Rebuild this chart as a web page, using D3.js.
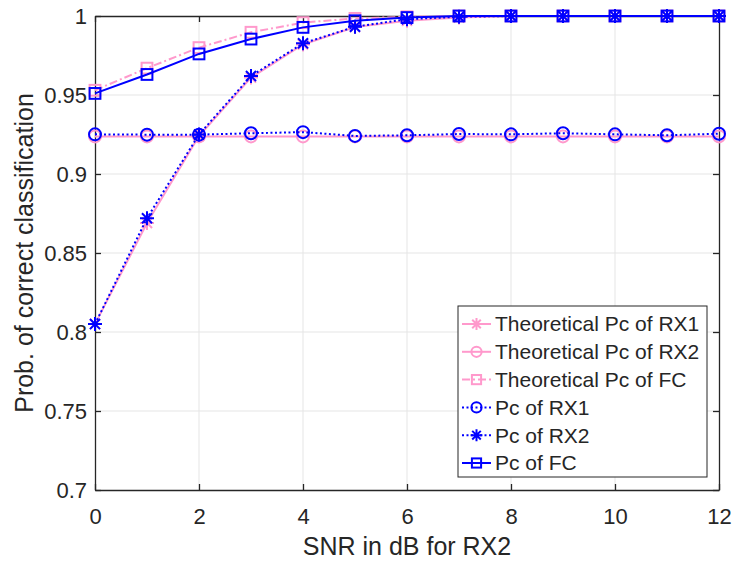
<!DOCTYPE html>
<html>
<head>
<meta charset="utf-8">
<script src="https://cdn.jsdelivr.net/npm/d3@7"></script>
<style>
  body { margin: 0; background: #fff; }
  text { font-family: "Liberation Sans", Arial, sans-serif; fill: #262626; }
</style>
</head>
<body>
<div id="chart"></div>
<script>
// x values (SNR in dB for RX2)
const snr = [0, 1, 2, 3, 4, 5, 6, 7, 8, 9, 10, 11, 12];

// theoretical curves
const theoRX1 = [0.805, 0.869, 0.924, 0.961, 0.982, 0.993, 0.997, 0.999, 1, 1, 1, 1, 1];
const theoRX2 = [0.9238, 0.9238, 0.9238, 0.9238, 0.9238, 0.9238, 0.9238, 0.9238, 0.9238, 0.9238, 0.9238, 0.9238, 0.9238];
const theoFC = [0.953, 0.967, 0.980, 0.9897, 0.9958, 0.9985, 0.9995, 1, 1, 1, 1, 1, 1];

// simulated curves
const simRX1 = [0.9251, 0.9249, 0.9249, 0.9258, 0.9265, 0.9241, 0.9245, 0.9253, 0.9251, 0.9258, 0.9251, 0.9245, 0.9255];
const simRX2 = [0.805, 0.872, 0.925, 0.962, 0.9827, 0.9932, 0.998, 0.9995, 1, 1, 1, 1, 1];
const simFC = [0.951, 0.963, 0.976, 0.9854, 0.9928, 0.997, 0.999, 1, 1, 1, 1, 1, 1];

const xTicks = [0, 2, 4, 6, 8, 10, 12];
const yTicks = [0.7, 0.75, 0.8, 0.85, 0.9, 0.95, 1];

const pink = "#ff99cc";
const blue = "#0000ff";

const series = [
    { name: "Theoretical Pc of RX1", values: theoRX1, color: pink, dash: null, marker: "star" },
    { name: "Theoretical Pc of RX2", values: theoRX2, color: pink, dash: null, marker: "circle" },
    { name: "Theoretical Pc of FC", values: theoFC, color: pink, dash: "8,3,2,3", marker: "square" },
    { name: "Pc of RX1", values: simRX1, color: blue, dash: "2,2.5", marker: "circle" },
    { name: "Pc of RX2", values: simRX2, color: blue, dash: "2,2.5", marker: "star" },
    { name: "Pc of FC", values: simFC, color: blue, dash: null, marker: "square" }
];

const W = 732, H = 561;
const margin = { top: 16, right: 13, bottom: 71, left: 95 };
const width = W - margin.left - margin.right;
const height = H - margin.top - margin.bottom;

const svg = d3.select("#chart").append("svg")
    .attr("width", W)
    .attr("height", H);

const g = svg.append("g").attr("transform", `translate(${margin.left},${margin.top})`);

const x = d3.scaleLinear().domain([0, 12]).range([0, width]);
const y = d3.scaleLinear().domain([0.7, 1]).range([height, 0]);

// grid
g.append("g").selectAll("line")
    .data(xTicks.slice(1, -1))
    .enter().append("line")
    .attr("x1", d => x(d)).attr("x2", d => x(d))
    .attr("y1", 0).attr("y2", height)
    .attr("stroke", "#e5e5e5");

g.append("g").selectAll("line")
    .data(yTicks.slice(1, -1))
    .enter().append("line")
    .attr("x1", 0).attr("x2", width)
    .attr("y1", d => y(d)).attr("y2", d => y(d))
    .attr("stroke", "#e5e5e5");

// axes with inward ticks
const axisStyle = sel => {
    sel.select(".domain").attr("stroke", "#262626").attr("stroke-width", 1.3);
    sel.selectAll(".tick line").attr("stroke", "#262626").attr("stroke-width", 1.3);
    sel.selectAll("text").style("font-size", "22px").attr("fill", "#262626");
};

g.append("g")
    .attr("transform", `translate(0,${height})`)
    .call(d3.axisBottom(x).tickValues(xTicks).tickSizeInner(-6).tickSizeOuter(0).tickPadding(18))
    .call(axisStyle);

g.append("g")
    .call(d3.axisTop(x).tickValues(xTicks).tickSizeInner(-6).tickSizeOuter(0).tickFormat(""))
    .call(axisStyle);

g.append("g")
    .call(d3.axisLeft(y).tickValues(yTicks).tickSizeInner(-6).tickSizeOuter(0).tickPadding(8).tickFormat(d3.format("")))
    .call(axisStyle);

g.append("g")
    .attr("transform", `translate(${width},0)`)
    .call(d3.axisRight(y).tickValues(yTicks).tickSizeInner(-6).tickSizeOuter(0).tickFormat(""))
    .call(axisStyle);

// markers
function drawMarker(sel, type, color, scale) {
    if (type === "circle") {
        sel.append("circle").attr("r", 6 * scale)
            .attr("fill", "none").attr("stroke", color).attr("stroke-width", 2);
    } else if (type === "square") {
        const h = 5.4 * scale;
        sel.append("rect").attr("x", -h).attr("y", -h)
            .attr("width", 2 * h).attr("height", 2 * h)
            .attr("fill", "none").attr("stroke", color).attr("stroke-width", 2);
    } else {
        const r = 7 * scale, d = r * 0.72;
        sel.append("path")
            .attr("d", `M${-r},0L${r},0M0,${-r}L0,${r}M${-d},${-d}L${d},${d}M${-d},${d}L${d},${-d}`)
            .attr("fill", "none").attr("stroke", color).attr("stroke-width", 2);
    }
}

const line = d3.line()
    .x((d, i) => x(snr[i]))
    .y(d => y(d));

series.forEach(s => {
    g.append("path")
        .datum(s.values)
        .attr("fill", "none")
        .attr("stroke", s.color)
        .attr("stroke-width", 2)
        .attr("stroke-dasharray", s.dash)
        .attr("d", line);
    s.values.forEach((v, i) => {
        const m = g.append("g").attr("transform", `translate(${x(snr[i])},${y(v)})`);
        drawMarker(m, s.marker, s.color, 1);
    });
});

// axis labels
svg.append("text")
    .attr("x", margin.left + width / 2)
    .attr("y", 555)
    .attr("text-anchor", "middle")
    .style("font-size", "25px")
    .text("SNR in dB for RX2");

svg.append("text")
    .attr("transform", `translate(33,${margin.top + height / 2}) rotate(-90)`)
    .attr("text-anchor", "middle")
    .style("font-size", "25px")
    .text("Prob. of correct classification");

// legend
const lg = svg.append("g").attr("transform", "translate(458,306)");
lg.append("rect")
    .attr("width", 249).attr("height", 171)
    .attr("fill", "#fff").attr("stroke", "#262626").attr("stroke-width", 1);

series.forEach((s, i) => {
    const cy = 18 + i * 27.8;
    lg.append("line")
        .attr("x1", 4).attr("x2", 33)
        .attr("y1", cy).attr("y2", cy)
        .attr("stroke", s.color).attr("stroke-width", 2)
        .attr("stroke-dasharray", s.dash);
    const m = lg.append("g").attr("transform", `translate(18.5,${cy})`);
    drawMarker(m, s.marker, s.color, 0.85);
    lg.append("text")
        .attr("x", 37).attr("y", cy)
        .attr("dy", "0.35em")
        .style("font-size", "21px")
        .attr("fill", "#000")
        .text(s.name);
});
</script>
</body>
</html>
